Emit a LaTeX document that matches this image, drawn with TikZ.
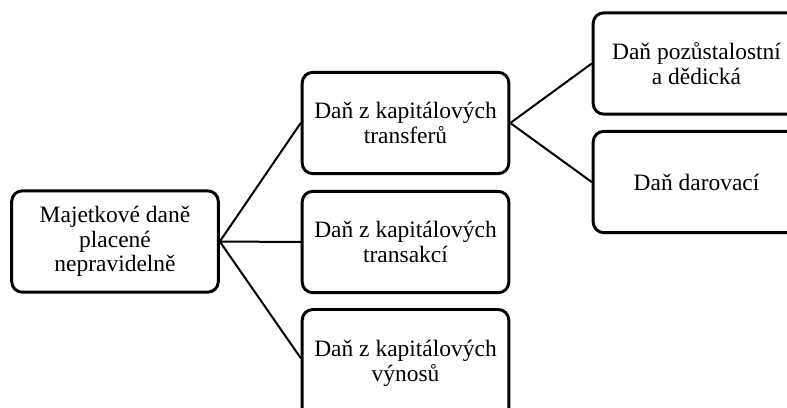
\documentclass[tikz,border=0pt]{standalone}
\usepackage{fontspec}
\setmainfont{Liberation Serif}
\begin{document}
\begin{tikzpicture}[x=0.75pt,y=-0.75pt,line join=round,line cap=round,
    font=\fontsize{17.6}{18.6}\selectfont,
    ramecek/.style={draw,rounded corners=8pt,line width=2.2pt,fill=white,
                    align=center,minimum width=155pt,minimum height=76pt,
                    inner sep=2pt},
    spoj/.style={line width=1.5pt}]

  % okraje obrazku, prave boxy a spodni box jsou oriznuty
  \useasboundingbox (0,0) rectangle (787,407);
  \clip (0,0) rectangle (787,407);

  % ---- koren ----------------------------------------------------------------
  \node[ramecek] (maj) at (115,241.5) {Majetkové daně\\placené\\nepravidelně};

  % ---- prostredni sloupec ---------------------------------------------------
  \node[ramecek] (transfer) at (405.5,123) {Daň z kapitálových\\transferů};
  \node[ramecek] (transakce) at (405.5,242) {Daň z kapitálových\\transakcí};
  % spodni box presahuje dolni okraj
  \node[ramecek,minimum height=96pt] (vynos) at (405.5,373.5)
       {Daň z kapitálových\\výnosů\\\mbox{}};

  % ---- pravy sloupec --------------------------------------------------------
  \node[ramecek] (dedicka) at (696.5,63.5) {Daň pozůstalostní\\a dědická};
  \node[ramecek] (darovaci) at (696.5,182) {Daň darovací};

  % ---- spojnice -------------------------------------------------------------
  \draw[spoj] (maj.east) -- (transfer.west);
  \draw[spoj] (maj.east) -- (transakce.west);
  \draw[spoj] (maj.east) -- ([yshift=11.6pt]vynos.west);
  \draw[spoj] (transfer.east) -- (dedicka.west);
  \draw[spoj] (transfer.east) -- (darovaci.west);

\end{tikzpicture}
\end{document}
